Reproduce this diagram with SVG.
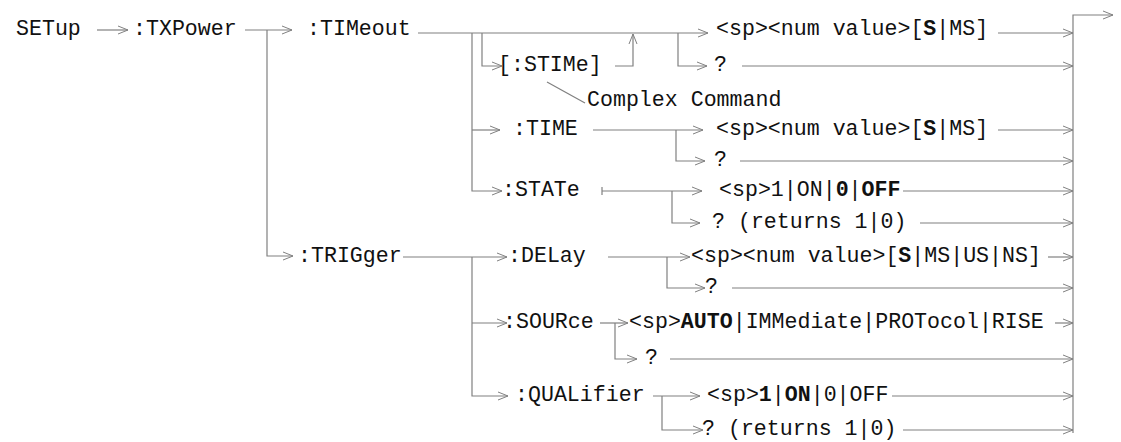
<svg xmlns="http://www.w3.org/2000/svg" width="1121" height="442" viewBox="0 0 1121 442">
<defs>
<marker id="ah" viewBox="0 0 10 10" refX="10" refY="5" markerWidth="10" markerHeight="10" markerUnits="userSpaceOnUse" orient="auto">
<path d="M0,1 L10,5 L0,9" fill="none" stroke="#808080" stroke-width="1"/>
</marker>
<style>
text{font-family:"Liberation Mono","Courier New",monospace;font-size:21.6px;fill:#111;}
.b{font-weight:bold;}
.c path{fill:none;stroke:#808080;stroke-width:1.2;}
.c path.a{marker-end:url(#ah);}
</style>
</defs>
<rect width="1121" height="442" fill="#fff"/>
<g class="c" id="connectors">
<path class="a" d="M97,30 H128"/>
<path class="a" d="M245,30 H292"/>
<path class="a" d="M267,30 V256 H293"/>
<path class="a" d="M418,33 H708"/>
<path class="a" d="M472,33 V191 H502"/>
<path class="a" d="M472,130 H500"/>
<path class="a" d="M482,33 V66 H502"/>
<path class="a" d="M615,66 H633 V34"/>
<path class="a" d="M678,33 V66 H707"/>
<path class="a" d="M742,66 H1073"/>
<path class="a" d="M998,33 H1073"/>
<path d="M547,82 L585,103"/>
<path class="a" d="M593,130 H703"/>
<path class="a" d="M676,130 V161 H705"/>
<path class="a" d="M998,130 H1073"/>
<path class="a" d="M740,161 H1073"/>
<path d="M602,187 V195"/>
<path class="a" d="M602,191 H702"/>
<path class="a" d="M672,191 V223 H700"/>
<path class="a" d="M903,191 H1073"/>
<path class="a" d="M920,223 H1073"/>
<path class="a" d="M403,257 H507"/>
<path class="a" d="M472,257 V396 H508"/>
<path class="a" d="M472,323 H507"/>
<path class="a" d="M608,257 H690"/>
<path class="a" d="M667,257 V288 H705"/>
<path class="a" d="M1048,257 H1073"/>
<path class="a" d="M732,288 H1073"/>
<path class="a" d="M600,323 H628"/>
<path class="a" d="M615,323 V359 H637"/>
<path class="a" d="M1055,323 H1073"/>
<path class="a" d="M670,359 H1073"/>
<path class="a" d="M653,396 H700"/>
<path class="a" d="M662,396 V430 H703"/>
<path class="a" d="M892,396 H1073"/>
<path class="a" d="M903,430 H1073"/>
<path class="a" d="M1073,433 V15 H1113"/>
</g>
<g id="setup"><text x="16" y="35">SETup</text></g>
<g id="txpower"><text x="133" y="35">:TXPower</text></g>
<g id="timeout"><text x="307" y="35">:TIMeout</text></g>
<g id="timeout-value"><text x="716" y="35">&lt;sp&gt;&lt;num value&gt;[<tspan class="b">S</tspan>|MS]</text></g>
<g id="stime"><text x="498" y="71">[:STIMe]</text></g>
<g id="timeout-query"><text x="714" y="71">?</text></g>
<g id="complex-note"><text x="587" y="106">Complex Command</text></g>
<g id="time"><text x="513" y="135">:TIME</text></g>
<g id="time-value"><text x="716" y="135">&lt;sp&gt;&lt;num value&gt;[<tspan class="b">S</tspan>|MS]</text></g>
<g id="time-query"><text x="714" y="166">?</text></g>
<g id="state"><text x="502" y="196">:STATe</text></g>
<g id="state-value"><text x="719" y="196">&lt;sp&gt;1|ON|<tspan class="b">0</tspan>|<tspan class="b">OFF</tspan></text></g>
<g id="state-query"><text x="712" y="228">? (returns 1|0)</text></g>
<g id="trigger"><text x="298" y="262">:TRIGger</text></g>
<g id="delay"><text x="508" y="262">:DELay</text></g>
<g id="delay-value"><text x="691" y="262">&lt;sp&gt;&lt;num value&gt;[<tspan class="b">S</tspan>|MS|US|NS]</text></g>
<g id="delay-query"><text x="705" y="293">?</text></g>
<g id="source"><text x="503" y="328">:SOURce</text></g>
<g id="source-value"><text x="629" y="328">&lt;sp&gt;<tspan class="b">AUTO</tspan>|IMMediate|PROTocol|RISE</text></g>
<g id="source-query"><text x="645" y="364">?</text></g>
<g id="qualifier"><text x="515" y="401">:QUALifier</text></g>
<g id="qualifier-value"><text x="707" y="401">&lt;sp&gt;<tspan class="b">1</tspan>|<tspan class="b">ON</tspan>|0|OFF</text></g>
<g id="qualifier-query"><text x="702" y="435">? (returns 1|0)</text></g>
</svg>
